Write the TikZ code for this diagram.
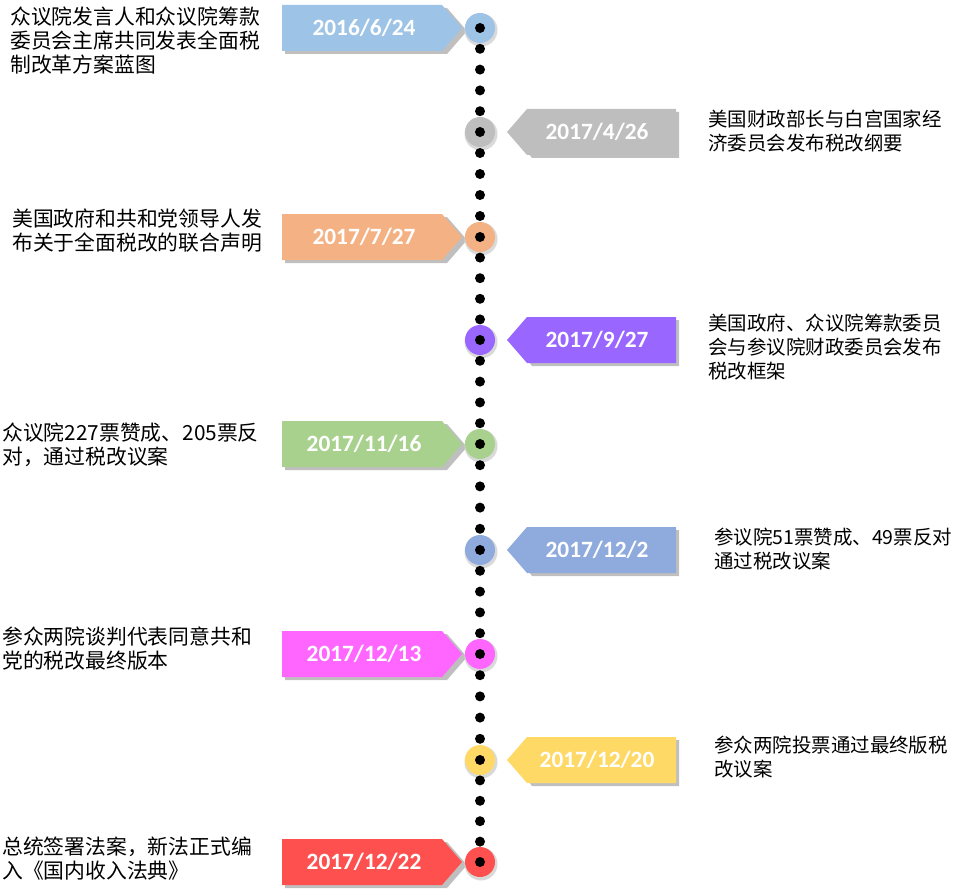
\documentclass[tikz,border=0pt]{standalone}
\usepackage{fontspec}
\setmainfont{Noto Sans CJK SC}
\newfontfamily\datefont{Carlito}
\begin{document}
\begin{tikzpicture}[x=0.75pt,y=-0.75pt,
  desc/.style={anchor=north west,align=left,inner sep=0pt,font=\fontsize{15.6}{18}\selectfont},
  descs/.style={desc,font=\fontsize{14.6}{18}\selectfont},
  datetxt/.style={text=white,font=\datefont\bfseries\fontsize{17.5}{18}\selectfont},
  ring/.style={circle,minimum size=22.5pt,inner sep=0pt},
  dot/.style={circle,fill=black,minimum size=7.5pt,inner sep=0pt}]
\useasboundingbox (0,0) rectangle (962,891);
\def\ev#1#2#3#4#5{%
  \definecolor{c#1}{RGB}{#3}%
  \if L#2
    \fill[black!25] (285,#4-20) -- (447,#4-20) -- (467,#4+3) -- (447,#4+26) -- (285,#4+26) -- cycle;
    \fill[c#1] (282,#4-23) -- (442,#4-23) -- (462,#4) -- (442,#4+23) -- (282,#4+23) -- cycle;
    \node[datetxt] (d#1) at (364,#4) {#5};
  \else
    \fill[black!25] (512,#4) -- (532,#4-20) -- (679,#4-20) -- (679,#4+26) -- (532,#4+26) -- cycle;
    \fill[c#1] (507,#4) -- (527,#4-23) -- (676,#4-23) -- (676,#4+23) -- (527,#4+23) -- cycle;
    \node[datetxt] (d#1) at (597,#4) {#5};
  \fi
  \fill[black!15] (481,#4+2) circle (16.5);
  \node[ring,fill=c#1] (r#1) at (480,#4) {};
  \node[dot] (k#1) at (r#1) {};
}
\ev{1}{L}{157,195,230}{28}{2016/6/24}
\ev{2}{R}{190,190,190}{132}{2017/4/26}
\ev{3}{L}{244,177,131}{237}{2017/7/27}
\ev{4}{R}{153,102,255}{340}{2017/9/27}
\ev{5}{L}{169,209,142}{444}{2017/11/16}
\ev{6}{R}{143,170,220}{550}{2017/12/2}
\ev{7}{L}{255,102,255}{654}{2017/12/13}
\ev{8}{R}{255,217,102}{760}{2017/12/20}
\ev{9}{L}{255,80,80}{862}{2017/12/22}
% connecting dots
\foreach \a/\b in {28/132,132/237,237/340,340/444,444/550,550/654,654/760,760/862}{
  \foreach \j in {1,2,3,4}{
    \node[dot] at (480,{\a+(\b-\a)*\j/5}) {};
  }
}
\node[desc] (t1) at (10,7) {众议院发言人和众议院筹款\\委员会主席共同发表全面税\\制改革方案蓝图};
\node[descs] (t2) at (708,110) {美国财政部长与白宫国家经\\济委员会发布税改纲要};
\node[desc] (t3) at (12,209) {美国政府和共和党领导人发\\布关于全面税改的联合声明};
\node[descs] (t4) at (708,314) {美国政府、众议院筹款委员\\会与参议院财政委员会发布\\税改框架};
\node[desc] (t5) at (2,423) {众议院227票赞成、205票反\\对，通过税改议案};
\node[descs] (t6) at (714,528) {参议院51票赞成、49票反对\\通过税改议案};
\node[desc] (t7) at (2,627) {参众两院谈判代表同意共和\\党的税改最终版本};
\node[descs] (t8) at (714,736) {参众两院投票通过最终版税\\改议案};
\node[desc] (t9) at (2,837) {总统签署法案，新法正式编\\入《国内收入法典》};
\end{tikzpicture}
\end{document}
